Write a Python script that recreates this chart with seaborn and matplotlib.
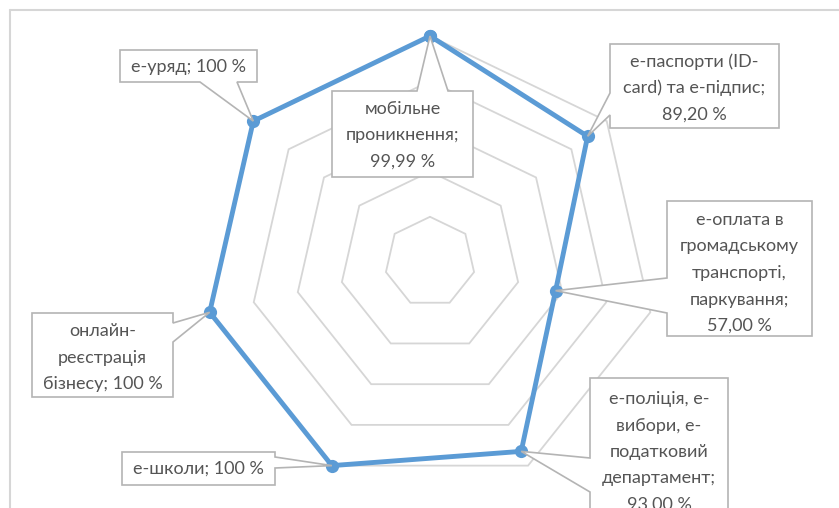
import numpy as np
import pandas as pd
import matplotlib
matplotlib.use("Agg")
import matplotlib.pyplot as plt
import matplotlib.transforms as mtransforms
from matplotlib.patches import Polygon
import seaborn as sns

# --- data -------------------------------------------------------------
categories = [
    "мобільне\nпроникнення",
    "е-паспорти (ID-\ncard) та е-підпис",
    "е-оплата в\nгромадському\nтранспорті,\nпаркування",
    "е-поліція, е-\nвибори, е-\nподатковий\nдепартамент",
    "е-школи",
    "онлайн-\nреєстрація\nбізнесу",
    "е-уряд",
]
values = [99.99, 89.20, 57.00, 93.00, 100, 100, 100]
value_text = ["99,99 %", "89,20 %", "57,00 %", "93,00 %", "100 %", "100 %", "100 %"]
grid_levels = [20, 40, 60, 80, 100]

# --- layout (pixels from top-left) -----------------------------------
W, H = 839, 508
CX, CY, R100 = 430, 262, 226.0
SCALE = R100 / 100.0
# box: left, top, right, bottom, side of the pointer, pointer start, pointer end, text centre y
boxes = [
    (332, 91, 473, 177, "top", 417, 448, 135),
    (610, 44, 779, 128, "left", 93, 115, 88),
    (667, 201, 812, 336, "left", 278, 313, 273),
    (590, 378, 728, 560, "left", 458, 492, 452),
    (122, 452, 275, 485, "right", 457, 468, 469),
    (32, 313, 173, 397, "right", 323, 342, 358),
    (120, 50, 257, 82, "bottom", 200, 237, 67),
]
LINE_STEP = 26.5

BLUE = "#5b9bd5"
GRID = "#d6d6d6"
EDGE = "#b4b4b4"
TEXT = "#555555"

sns.set_theme(style="white")
plt.rcParams["font.family"] = ["Lato", "DejaVu Sans"]

fig = plt.figure(figsize=(W / 100, H / 100), dpi=100)
ax = fig.add_axes([0, 0, 1, 1])
ax.set_xlim(-CX / SCALE, (W - CX) / SCALE)
ax.set_ylim(-(H - CY) / SCALE, CY / SCALE)
ax.axis("off")

n = len(values)
angles = np.pi / 2 - np.arange(n) * 2 * np.pi / n

# heptagon grid rings
for lv in grid_levels:
    gx = np.append(lv * np.cos(angles), lv * np.cos(angles[0]))
    gy = np.append(lv * np.sin(angles), lv * np.sin(angles[0]))
    ax.plot(gx, gy, color=GRID, lw=1.3, zorder=1, solid_joinstyle="miter")

# data series
vals = np.array(values, dtype=float)
df = pd.DataFrame({
    "x": vals * np.cos(angles),
    "y": vals * np.sin(angles),
    "category": categories,
})
df_closed = pd.concat([df, df.iloc[[0]]], ignore_index=True)
sns.lineplot(data=df_closed, x="x", y="y", sort=False, estimator=None,
             color=BLUE, lw=3.5, marker="o", markersize=9.5,
             markeredgewidth=0, ax=ax, zorder=3)

# pixel (top-left origin) transform for the callouts
px = mtransforms.Affine2D().scale(1, -1).translate(0, H)


def callout(L, T, Rr, B, side, a, b, tip):
    if side == "top":
        pts = [(L, T), (a, T), tip, (b, T), (Rr, T), (Rr, B), (L, B)]
    elif side == "right":
        pts = [(L, T), (Rr, T), (Rr, a), tip, (Rr, b), (Rr, B), (L, B)]
    elif side == "bottom":
        pts = [(L, T), (Rr, T), (Rr, B), (b, B), tip, (a, B), (L, B)]
    else:
        pts = [(L, T), (Rr, T), (Rr, B), (L, B), (L, b), tip, (L, a)]
    return Polygon(pts, closed=True, facecolor="white", edgecolor=EDGE,
                   lw=1.2, transform=px, zorder=4, clip_on=False,
                   joinstyle="miter")


for i, (L, T, Rr, B, side, a, b, ty) in enumerate(boxes):
    dx, dy = ax.transData.transform((df.x[i], df.y[i]))
    tip = (dx, H - dy)
    ax.add_patch(callout(L, T, Rr, B, side, a, b, tip))
    sep = "\n" if "," in value_text[i] else " "
    lines = (categories[i] + ";" + sep + value_text[i]).split("\n")
    cx = (L + Rr) / 2
    for j, line in enumerate(lines):
        yy = ty + (j - (len(lines) - 1) / 2) * LINE_STEP
        ax.text(cx, yy, line, transform=px, ha="center", va="center",
                fontsize=13, color=TEXT, zorder=5)

# chart area border (only top and left visible)
ax.plot([10, W + 5], [10, 10], color=GRID, lw=1.5, transform=px, clip_on=False)
ax.plot([10, 10], [10, H + 5], color=GRID, lw=1.5, transform=px, clip_on=False)

fig.savefig("out.png", dpi=100)
